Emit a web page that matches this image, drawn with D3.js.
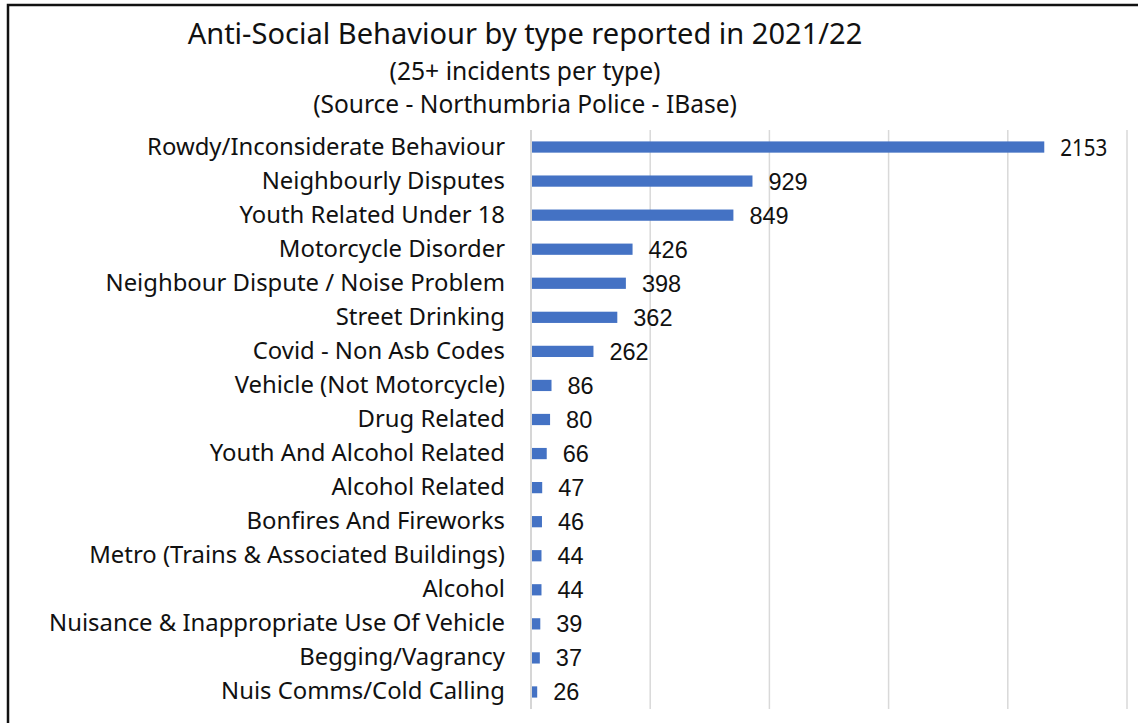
<!DOCTYPE html>
<html>
<head>
<meta charset="utf-8">
<script src="https://cdn.jsdelivr.net/npm/d3@7"></script>
<style>
  body { margin: 0; background: #fff; }
  svg { display: block; }
</style>
</head>
<body>
<svg width="1138" height="723"></svg>
<script>
// data
const categories = [
  "Rowdy/Inconsiderate Behaviour",
  "Neighbourly Disputes",
  "Youth Related Under 18",
  "Motorcycle Disorder",
  "Neighbour Dispute / Noise Problem",
  "Street Drinking",
  "Covid - Non Asb Codes",
  "Vehicle (Not Motorcycle)",
  "Drug Related",
  "Youth And Alcohol Related",
  "Alcohol Related",
  "Bonfires And Fireworks",
  "Metro (Trains & Associated Buildings)",
  "Alcohol",
  "Nuisance & Inappropriate Use Of Vehicle",
  "Begging/Vagrancy",
  "Nuis Comms/Cold Calling",
];
const counts = [2153, 929, 849, 426, 398, 362, 262, 86, 80, 66, 47, 46, 44, 44, 39, 37, 26];
const xTicks = [0, 500, 1000, 1500, 2000, 2500];
const titleLines = [
  "Anti-Social Behaviour by type reported in 2021/22",
  "(25+ incidents per type)",
  "(Source - Northumbria Police - IBase)",
];

const svg = d3.select("svg");
const labelFont = "'Noto Sans', sans-serif";

// outer frame
svg.append("rect")
  .attr("x", 8).attr("y", 5)
  .attr("width", 1140).attr("height", 730)
  .attr("fill", "none")
  .attr("stroke", "#111")
  .attr("stroke-width", 2.5);

const x = d3.scaleLinear().domain([0, 2500]).range([531, 1127]);
const y = d3.scaleBand().domain(categories).range([130, 709]).paddingInner(0.67).paddingOuter(0.335);

// gridlines
svg.append("g")
  .selectAll("line")
  .data(xTicks)
  .join("line")
  .attr("x1", (d) => x(d)).attr("x2", (d) => x(d))
  .attr("y1", 130).attr("y2", 709)
  .attr("stroke", (d) => (d === 0 ? "#c8c8c8" : "#d9d9d9"))
  .attr("stroke-width", 1.5);

// bars
svg.append("g")
  .selectAll("rect")
  .data(counts)
  .join("rect")
  .attr("x", x(0) + 1)
  .attr("y", (d, i) => y(categories[i]))
  .attr("width", (d) => x(d) - x(0) - 1)
  .attr("height", y.bandwidth())
  .attr("fill", "#4472c4");

// value labels (the top one uses the label font in the original)
svg.append("g")
  .selectAll("text")
  .data(counts)
  .join("text")
  .attr("x", (d) => x(d) + 16)
  .attr("y", (d, i) => y(categories[i]) + y.bandwidth() / 2 + 8.5)
  .attr("font-family", (d, i) => (i === 0 ? labelFont : "'Liberation Sans', Arial, sans-serif"))
  .attr("font-size", (d, i) => (i === 0 ? 23.5 : 23.5))
  .attr("fill", "#111")
  .text((d) => d)
  .filter((d, i) => i === 0)
  .attr("textLength", 47)
  .attr("lengthAdjust", "spacingAndGlyphs");

// category labels, sized so the widths match the original
const catLabels = svg.append("g")
  .selectAll("text")
  .data(categories)
  .join("text")
  .attr("x", 505)
  .attr("y", (d) => y(d) + y.bandwidth() / 2 + 7.5)
  .attr("text-anchor", "end")
  .attr("font-family", labelFont)
  .attr("font-size", 20)
  .attr("fill", "#111")
  .text((d) => d);
const w0 = catLabels.nodes()[0].getComputedTextLength();
catLabels.attr("font-size", 20 * 358 / w0);

// titles
const titleSpec = [
  { y: 44, width: 675 },
  { y: 80, width: 271 },
  { y: 113, width: 424 },
];
titleLines.forEach((t, i) => {
  const el = svg.append("text")
    .attr("x", 525)
    .attr("y", titleSpec[i].y)
    .attr("text-anchor", "middle")
    .attr("font-family", labelFont)
    .attr("font-size", 20)
    .attr("fill", "#111")
    .text(t);
  const w = el.node().getComputedTextLength();
  el.attr("font-size", 20 * titleSpec[i].width / w);
});
</script>
</body>
</html>
